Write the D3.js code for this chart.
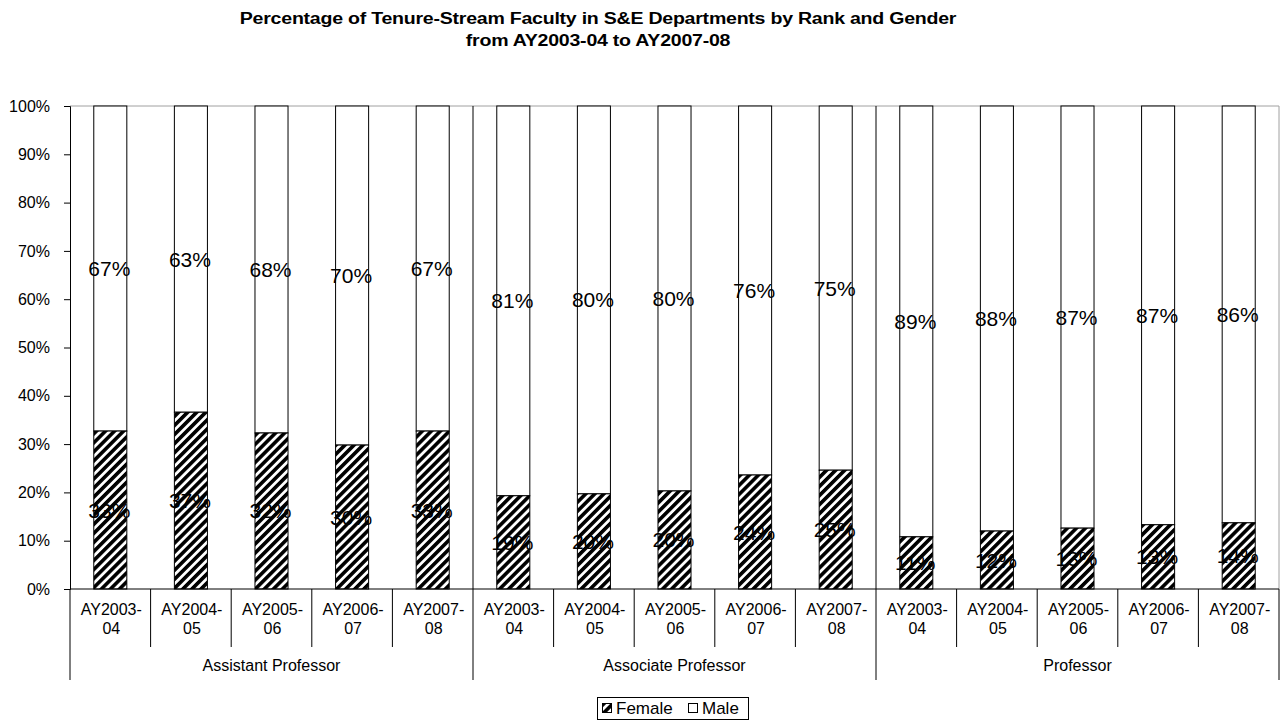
<!DOCTYPE html>
<html>
<head>
<meta charset="utf-8">
<script src="https://cdn.jsdelivr.net/npm/d3@7/dist/d3.min.js"></script>
<style>
  html, body { margin: 0; padding: 0; background: #fff; }
  svg { display: block; font-family: "Liberation Sans", Arial, sans-serif; }
</style>
</head>
<body>
<svg id="chart" width="1287" height="722"></svg>
<script>
const titleLines = ["Percentage of Tenure-Stream Faculty in S&E Departments by Rank and Gender", "from AY2003-04 to AY2007-08"];
const ranks = ["Assistant Professor", "Associate Professor", "Professor"];
const years = ["AY2003-04", "AY2004-05", "AY2005-06", "AY2006-07", "AY2007-08"];
const female = [32.7, 36.6, 32.3, 29.8, 32.7, 19.3, 19.7, 20.3, 23.6, 24.6, 10.8, 12.0, 12.6, 13.3, 13.7];
const male   = [67.3, 63.4, 67.7, 70.2, 67.3, 80.7, 80.3, 79.7, 76.4, 75.4, 89.2, 88.0, 87.4, 86.7, 86.3];
const yTicks = [0, 10, 20, 30, 40, 50, 60, 70, 80, 90, 100];
const seriesNames = ["Female", "Male"];

const svg = d3.select("#chart");
const L = 70, R = 1279, T = 106, B = 589;

// hatch pattern
const defs = svg.append("defs");
const pat = defs.append("pattern").attr("id", "hatch")
  .attr("patternUnits", "userSpaceOnUse").attr("width", 6.4).attr("height", 6.4)
  .attr("patternTransform", "rotate(45)");
pat.append("rect").attr("width", 6.4).attr("height", 6.4).attr("fill", "#fff");
pat.append("rect").attr("width", 3.6).attr("height", 6.4).attr("fill", "#000");

// categories
const cats = [];
ranks.forEach(r => years.forEach(y => cats.push({rank: r, year: y})));
cats.forEach((c, i) => { c.key = i; c.f = female[i]; c.m = male[i]; });

const xCat = d3.scaleBand().domain(cats.map(c => c.key)).range([L, R]).padding(0);
const xBar = d3.scaleBand().domain(cats.map(c => c.key)).range([L, R]).paddingInner(0.59).paddingOuter(0.295);
const y = d3.scaleLinear().domain([0, 100]).range([B, T]);

// title
svg.append("g").selectAll("text").data(titleLines).join("text")
  .attr("transform", (d, i) => `translate(598,${24 + i * 22}) scale(1.15,1)`)
  .attr("x", 0).attr("y", 0)
  .attr("text-anchor", "middle").attr("font-weight", "bold").attr("font-size", 17)
  .attr("letter-spacing", -0.2)
  .text(d => d);

// plot border (gray top & right)
svg.append("path").attr("d", `M${L},${T}H${R}V${B}`).attr("fill", "none").attr("stroke", "#a0a0a0").attr("stroke-width", 1);

// bars
const gb = svg.append("g");
gb.selectAll("rect.m").data(cats).join("rect").attr("class", "m")
  .attr("x", d => xBar(d.key)).attr("width", xBar.bandwidth())
  .attr("y", d => y(d.f + d.m)).attr("height", d => y(d.f) - y(d.f + d.m))
  .attr("fill", "#fff").attr("stroke", "#000").attr("stroke-width", 1);
gb.selectAll("rect.f").data(cats).join("rect").attr("class", "f")
  .attr("x", d => xBar(d.key)).attr("width", xBar.bandwidth())
  .attr("y", d => y(d.f)).attr("height", d => y(0) - y(d.f))
  .attr("fill", "url(#hatch)").attr("stroke", "#000").attr("stroke-width", 1);

// group separators inside plot
const groupBounds = [5, 10];
svg.append("g").selectAll("line").data(groupBounds).join("line")
  .attr("x1", d => xCat(d)).attr("x2", d => xCat(d)).attr("y1", T).attr("y2", B)
  .attr("stroke", "#000");

// y axis
const yAxis = d3.axisLeft(y).tickValues(yTicks).tickFormat(d => d + "%").tickSize(6).tickPadding(14);
const ga = svg.append("g").attr("transform", `translate(${L},0)`).call(yAxis);
ga.select(".domain").attr("stroke", "#000");
ga.selectAll(".tick line").attr("stroke", "#000");
ga.selectAll(".tick text").attr("font-size", 16).attr("fill", "#000").attr("font-family", "Liberation Sans, Arial, sans-serif");

// x axis line
svg.append("line").attr("x1", L).attr("x2", R).attr("y1", B).attr("y2", B).attr("stroke", "#000");

// category boundaries below axis
const bounds = d3.range(0, 16);
svg.append("g").selectAll("line").data(bounds).join("line")
  .attr("x1", d => d < 15 ? xCat(d) : R).attr("x2", d => d < 15 ? xCat(d) : R)
  .attr("y1", B).attr("y2", d => d % 5 === 0 ? 680 : 647)
  .attr("stroke", "#000");

// year labels
const gy = svg.append("g");
gy.selectAll("text").data(cats).join("text")
  .attr("x", d => xCat(d.key) + xCat.bandwidth() / 2 + 1)
  .attr("y", 615).attr("text-anchor", "middle").attr("font-size", 16)
  .each(function(d) {
    const parts = d.year.split("-");
    const t = d3.select(this);
    t.append("tspan").attr("x", xCat(d.key) + xCat.bandwidth() / 2 + 1).text(parts[0] + "-");
    t.append("tspan").attr("x", xCat(d.key) + xCat.bandwidth() / 2 + 1).attr("dy", 19).text(parts[1]);
  });

// rank labels
svg.append("g").selectAll("text").data(ranks).join("text")
  .attr("x", (d, i) => (xCat(i * 5) + (i < 2 ? xCat(i * 5 + 5) : R)) / 2)
  .attr("y", 671).attr("text-anchor", "middle").attr("font-size", 16)
  .text(d => d);

// data labels
const gl = svg.append("g").attr("font-size", 21).attr("text-anchor", "middle").attr("dominant-baseline", "central");
gl.selectAll("text.fl").data(cats).join("text").attr("class", "fl")
  .attr("x", d => xBar(d.key) + xBar.bandwidth() / 2 - 1).attr("y", d => y(d.f / 2))
  .text(d => Math.round(d.f) + "%");
gl.selectAll("text.ml").data(cats).join("text").attr("class", "ml")
  .attr("x", d => xBar(d.key) + xBar.bandwidth() / 2 - 1).attr("y", d => y(d.f + d.m / 2))
  .text(d => Math.round(d.m) + "%");

// legend
const lg = svg.append("g");
lg.append("rect").attr("x", 597.5).attr("y", 697.5).attr("width", 151).attr("height", 22)
  .attr("fill", "#fff").attr("stroke", "#000");
const items = lg.selectAll("g").data(seriesNames).join("g")
  .attr("transform", (d, i) => `translate(${i === 0 ? 602 : 688},703)`);
items.append("rect").attr("x", 0.5).attr("y", 0.5).attr("width", 9).attr("height", 9)
  .attr("fill", (d, i) => i === 0 ? "url(#hatch)" : "#fff").attr("stroke", "#000");
items.append("text").attr("x", 14).attr("y", 11).attr("font-size", 17).text(d => d);
</script>
</body>
</html>
